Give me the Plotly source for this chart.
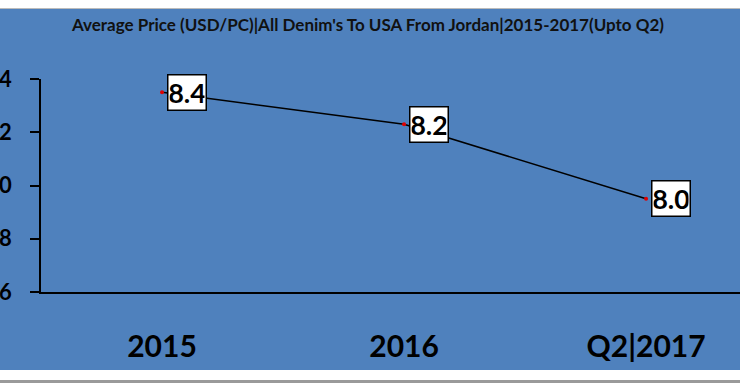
import plotly.graph_objects as go

categories = ["2015", "2016", "Q2|2017"]
avg_price = [8.35, 8.23, 7.95]
price_labels = ["8.4", "8.2", "8.0"]
y_ticks = [7.6, 7.8, 8.0, 8.2, 8.4]
y_tick_labels = ["7.6", "7.8", "8.0", "8.2", "8.4"]
title_text = "Average Price (USD/PC)|All Denim's To USA From Jordan|2015-2017(Upto Q2)"

W, H = 740, 383
BLUE = "#4F81BD"
FONT = "Lato"

fig = go.Figure()
fig.add_trace(go.Scatter(
    x=list(range(len(categories))), y=avg_price, mode="lines+markers",
    line=dict(color="black", width=1.5),
    marker=dict(color="#E00000", size=4),
    hoverinfo="skip", showlegend=False,
))

for i, (v, t) in enumerate(zip(avg_price, price_labels)):
    fig.add_annotation(
        x=i, y=v, text=t, showarrow=False, xanchor="left", yanchor="middle",
        xshift=5, bgcolor="white", bordercolor="black", borderwidth=1.5,
        borderpad=1, width=35, height=32,
        font=dict(family=FONT, size=27, color="black", weight="bold"),
    )

fig.add_annotation(
    xref="paper", yref="paper", x=367 / W, y=1 - 25 / H, text=title_text,
    showarrow=False, xanchor="center", yanchor="middle",
    font=dict(family=FONT, size=17, color="#111111", weight="bold"),
)

# white strips top and bottom
fig.add_shape(type="rect", xref="paper", yref="paper", x0=0, x1=1,
              y0=1 - 8 / H, y1=1, fillcolor="white", line_width=0, layer="above")
fig.add_shape(type="line", xref="paper", yref="paper", x0=0, x1=1,
              y0=1 - 8.5 / H, y1=1 - 8.5 / H, line=dict(color="#BBBBBB", width=1),
              layer="above")
fig.add_shape(type="rect", xref="paper", yref="paper", x0=0, x1=1,
              y0=0, y1=1 - 370 / H, fillcolor="white", line_width=0, layer="above")
fig.add_shape(type="rect", xref="paper", yref="paper", x0=0, x1=1,
              y0=0, y1=1 - 380 / H, fillcolor="#9A9A9A", line_width=0, layer="above")

fig.update_layout(
    template="none",
    width=W, height=H, margin=dict(l=0, r=0, t=0, b=0, pad=0),
    paper_bgcolor=BLUE, plot_bgcolor=BLUE,
    xaxis=dict(
        range=[-0.5, 2.388], domain=[41 / W, 1],
        tickvals=list(range(len(categories))), ticktext=categories,
        showgrid=False, showline=True, linecolor="black", linewidth=1.5,
        ticks="", tickfont=dict(family=FONT, size=30, color="black", weight="bold"),
        ticklabelstandoff=27, zeroline=False, automargin=False,
    ),
    yaxis=dict(
        range=[7.6, 8.4], domain=[1 - 292 / H, 1 - 79 / H],
        tickvals=y_ticks, ticktext=y_tick_labels,
        showgrid=False, showline=True, linecolor="black", linewidth=1.5,
        ticks="outside", ticklen=9, tickwidth=1.5, tickcolor="black",
        tickfont=dict(family=FONT, size=22, color="black", weight="bold"),
        ticklabelstandoff=14, zeroline=False, automargin=False,
    ),
)

fig.write_html(
    "out.html",
    config={"displayModeBar": False},
    post_script="document.body.style.margin='0px';document.body.style.overflow='hidden';",
)
